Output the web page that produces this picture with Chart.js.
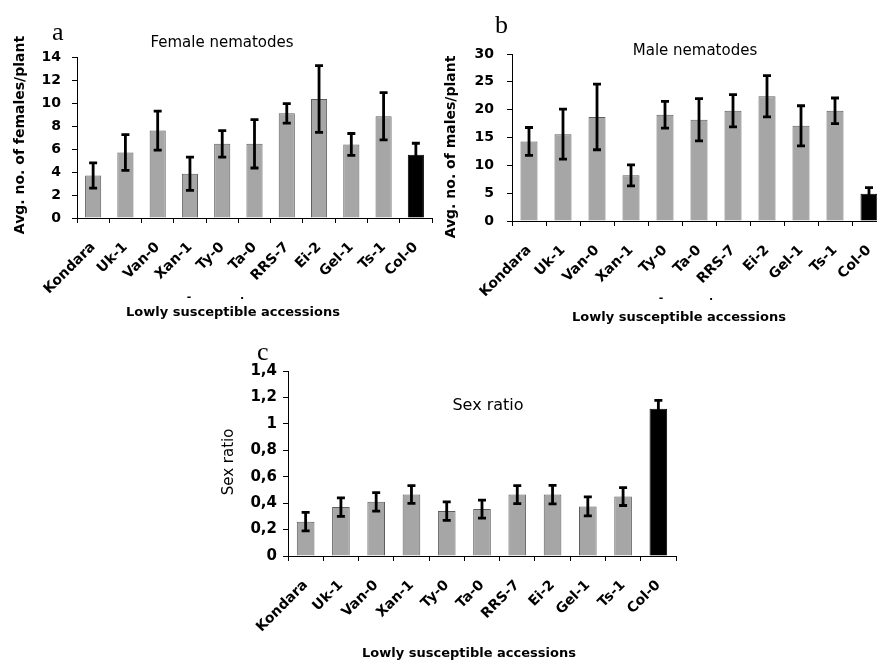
<!DOCTYPE html>
<html>
<head>
<meta charset="utf-8">
<script src="https://cdn.jsdelivr.net/npm/chart.js@4"></script>
<style>
  html, body { margin: 0; padding: 0; background: #fff; overflow: hidden; width: 877px; height: 661px; }
  .panel { position: absolute; }
  canvas { display: block; }
</style>
</head>
<body>
<div class="panel" style="left:0;top:0"><canvas id="female" width="446" height="335"></canvas></div>
<div class="panel" style="left:440px;top:0"><canvas id="male" width="460" height="335"></canvas></div>
<div class="panel" style="left:200px;top:335px"><canvas id="ratio" width="500" height="326"></canvas></div>
<script>
// Accessions (Col-0 is the reference line)
const accessions = ['Kondara', 'Uk-1', 'Van-0', 'Xan-1', 'Ty-0', 'Ta-0', 'RRS-7', 'Ei-2', 'Gel-1', 'Ts-1', 'Col-0'];

// Average number of females per plant, with standard error
const femaleMeans = [3.7, 5.7, 7.6, 3.85, 6.45, 6.45, 9.1, 10.35, 6.4, 8.85, 5.5];
const femaleErrors = [1.1, 1.55, 1.7, 1.45, 1.15, 2.1, 0.85, 2.9, 0.95, 2.05, 1.0];

// Average number of males per plant, with standard error
const maleMeans = [14.3, 15.6, 18.7, 8.2, 19.1, 18.2, 19.8, 22.4, 17.1, 19.8, 4.9];
const maleErrors = [2.5, 4.5, 5.9, 1.9, 2.4, 3.8, 2.9, 3.7, 3.6, 2.3, 1.1];

// Sex ratio (females / males), with standard error
const ratioMeans = [0.26, 0.37, 0.41, 0.465, 0.34, 0.355, 0.465, 0.465, 0.375, 0.45, 1.115];
const ratioErrors = [0.07, 0.07, 0.07, 0.067, 0.07, 0.068, 0.068, 0.07, 0.072, 0.068, 0.063];

const SANS = 'DejaVu Sans';
const SERIF = 'Liberation Serif';
const GREY = '#a6a6a6';
const GREY_EDGE = '#5e5e5e';
const barFill = accessions.map(a => a === 'Col-0' ? '#000' : GREY);
const barEdge = accessions.map(a => a === 'Col-0' ? '#000' : GREY_EDGE);

// Whiskers: mean ± error, drawn through the value scale
const errorBars = {
  id: 'errorBars',
  afterDatasetsDraw(chart) {
    const ctx = chart.ctx;
    const y = chart.scales.y;
    chart.data.datasets.forEach((ds, di) => {
      chart.getDatasetMeta(di).data.forEach((bar, i) => {
        const top = y.getPixelForValue(ds.data[i] + ds.errors[i]);
        const bot = y.getPixelForValue(ds.data[i] - ds.errors[i]);
        const cap = 4;
        ctx.save();
        ctx.strokeStyle = '#000';
        ctx.lineWidth = 2.8;
        ctx.beginPath();
        ctx.moveTo(bar.x, top); ctx.lineTo(bar.x, bot);
        ctx.moveTo(bar.x - cap, top); ctx.lineTo(bar.x + cap, top);
        ctx.moveTo(bar.x - cap, bot); ctx.lineTo(bar.x + cap, bot);
        ctx.stroke();
        ctx.restore();
      });
    });
  }
};

// Free text: panel letter, heading, axis titles
function captions(items) {
  return {
    id: 'captions',
    afterDraw(chart) {
      const ctx = chart.ctx;
      items.forEach(t => {
        ctx.save();
        ctx.font = t.font;
        ctx.fillStyle = '#000';
        ctx.textAlign = t.align || 'center';
        ctx.textBaseline = t.baseline || 'alphabetic';
        ctx.translate(t.x, t.y);
        if (t.rotate) ctx.rotate(t.rotate);
        ctx.fillText(t.text, 0, 0);
        ctx.restore();
      });
    }
  };
}

function panel(id, cfg) {
  return new Chart(document.getElementById(id), {
    type: 'bar',
    data: {
      labels: accessions,
      datasets: [{
        data: cfg.means,
        errors: cfg.errors,
        backgroundColor: barFill,
        borderColor: barEdge,
        borderWidth: 1,
        barPercentage: 0.5,
        categoryPercentage: 1
      }]
    },
    options: {
      responsive: false,
      animation: false,
      devicePixelRatio: 1,
      layout: { padding: cfg.padding },
      plugins: { legend: { display: false }, tooltip: { enabled: false }, title: { display: false } },
      scales: {
        x: {
          offset: true,
          grid: { display: true, drawOnChartArea: false, drawTicks: true, tickLength: 5, color: '#000', offset: true },
          border: { color: '#000', width: 1 },
          ticks: {
            color: '#000',
            font: { family: SANS, weight: 'bold', size: 14 },
            minRotation: 45, maxRotation: 45, autoSkip: false, padding: 16
          },
          afterFit: s => { s.height = cfg.xHeight; }
        },
        y: {
          min: 0, max: cfg.max,
          ticks: {
            stepSize: cfg.step,
            color: '#000',
            font: { family: SANS, weight: 'bold', size: cfg.yFont || 14 },
            padding: cfg.yPad,
            callback: cfg.fmt
          },
          grid: { drawOnChartArea: false, drawTicks: true, tickLength: 5, color: '#000' },
          border: { color: '#000', width: 1 },
          afterFit: s => { s.width = cfg.yWidth; }
        }
      }
    },
    plugins: [errorBars, captions(cfg.captions)]
  });
}

panel('female', {
  means: femaleMeans, errors: femaleErrors, max: 14, step: 2,
  padding: { left: 0, right: 14, top: 57, bottom: 0 }, yWidth: 77, xHeight: 117, yPad: 11,
  fmt: v => String(v),
  captions: [
    { text: 'a', font: `26px "${SERIF}"`, x: 52, y: 40, align: 'left' },
    { text: 'Female nematodes', font: `15px "${SANS}"`, x: 222, y: 47 },
    { text: 'Avg. no. of females/plant', font: `bold 14px "${SANS}"`, x: 20, y: 135, rotate: -Math.PI / 2, baseline: 'middle' },
    { text: 'Lowly susceptible accessions', font: `bold 13px "${SANS}"`, x: 233, y: 316 },
    { text: '-', font: `bold 11px "${SANS}"`, x: 189, y: 300 },
    { text: '.', font: `bold 11px "${SANS}"`, x: 242, y: 299 }
  ]
});

panel('male', {
  means: maleMeans, errors: maleErrors, max: 30, step: 5,
  padding: { left: 0, right: 14, top: 54, bottom: 0 }, yWidth: 72, xHeight: 114, yPad: 13,
  fmt: v => String(v),
  captions: [
    { text: 'b', font: `26px "${SERIF}"`, x: 55, y: 33, align: 'left' },
    { text: 'Male nematodes', font: `15px "${SANS}"`, x: 255, y: 55 },
    { text: 'Avg. no. of males/plant', font: `bold 14px "${SANS}"`, x: 11, y: 147, rotate: -Math.PI / 2, baseline: 'middle' },
    { text: 'Lowly susceptible accessions', font: `bold 13px "${SANS}"`, x: 239, y: 321 },
    { text: '-', font: `bold 11px "${SANS}"`, x: 221, y: 301 },
    { text: '.', font: `bold 11px "${SANS}"`, x: 271, y: 300 }
  ]
});

panel('ratio', {
  means: ratioMeans, errors: ratioErrors, max: 1.4, step: 0.2,
  padding: { left: 0, right: 24, top: 36, bottom: 0 }, yWidth: 88, xHeight: 105, yPad: 6, yFont: 15,
  fmt: v => String(Math.round(v * 10) / 10).replace('.', ','),
  captions: [
    { text: 'c', font: `26px "${SERIF}"`, x: 57, y: 25, align: 'left' },
    { text: 'Sex ratio', font: `16px "${SANS}"`, x: 288, y: 75 },
    { text: 'Sex ratio', font: `15px "${SANS}"`, x: 29, y: 127, rotate: -Math.PI / 2, baseline: 'middle' },
    { text: 'Lowly susceptible accessions', font: `bold 13px "${SANS}"`, x: 269, y: 322 }
  ]
});
</script>
</body>
</html>
